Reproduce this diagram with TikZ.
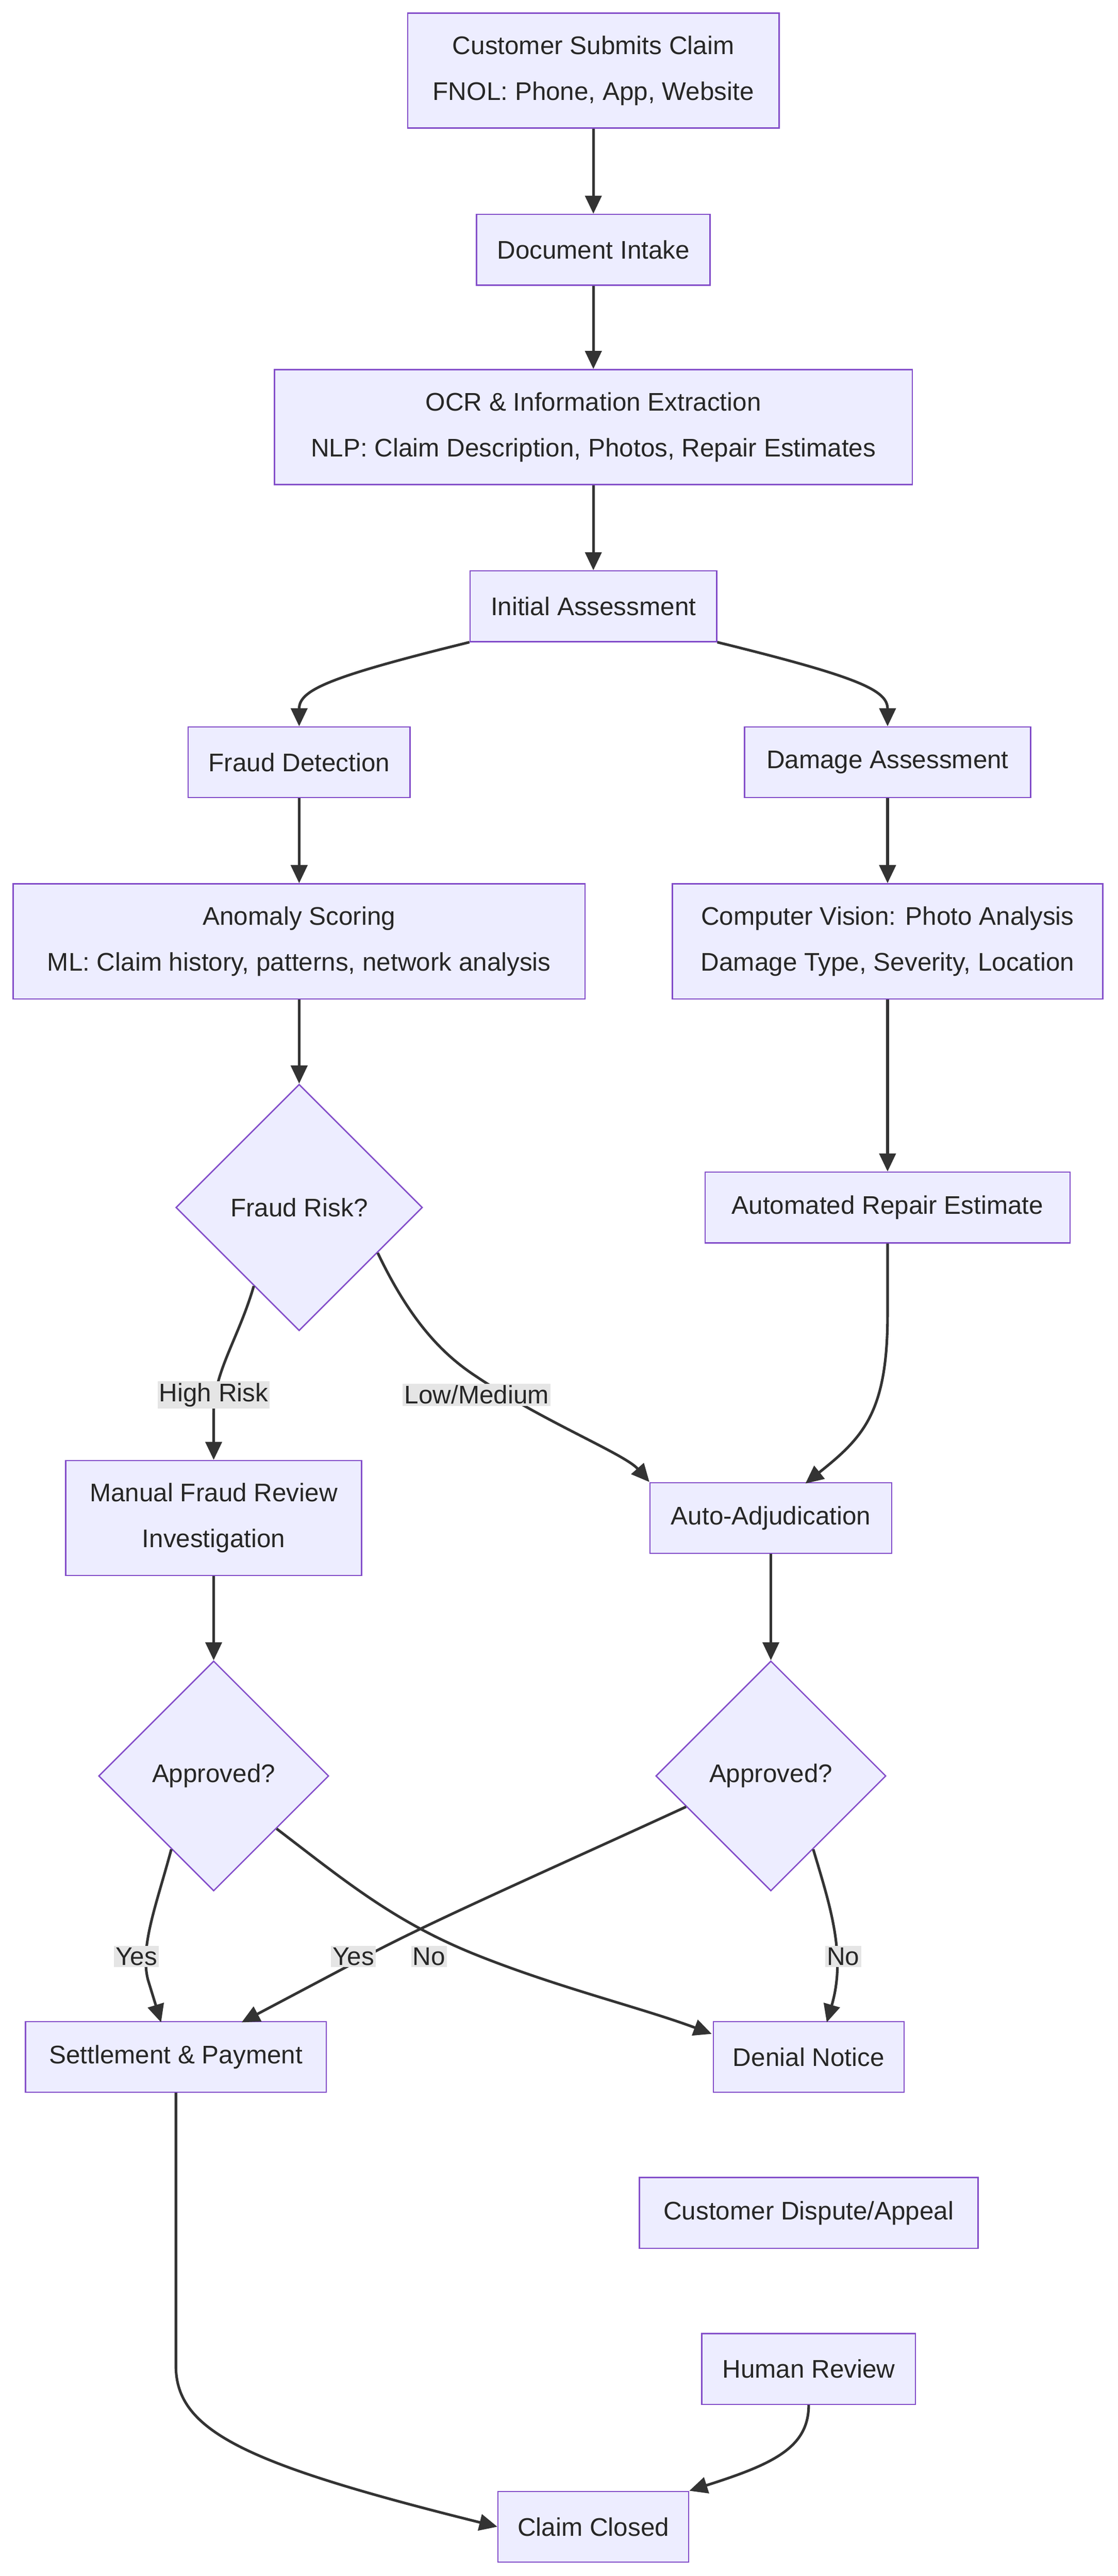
\documentclass[tikz,border=0pt]{standalone}
\usepackage{fontspec}
\setmainfont{Liberation Sans}
\usetikzlibrary{shapes.geometric,arrows.meta}
\begin{document}
\begin{tikzpicture}[x=1pt,y=-1pt,font=\fontsize{15.5}{28}\selectfont,
 box/.style={draw=violet!60!blue!70,fill=blue!7,line width=0.8pt,inner sep=0pt,align=center,text=black!85},
 dia/.style={diamond,draw=violet!60!blue!70,fill=blue!7,line width=0.8pt,inner sep=0pt,aspect=1,text=black!85},
 arr/.style={draw=black!80,line width=1.6pt,-{Triangle[length=11pt,width=10pt]}},
 lbl/.style={fill=black!10,inner sep=1pt,text=black!85}]
\useasboundingbox (0,0) rectangle (680,1568);
\fill[white] (0,0) rectangle (680,1568);
\node[box,minimum width=226,minimum height=70] (c1) at (361,43) {Customer Submits Claim\\FNOL: Phone, App, Website};
\node[box,minimum width=142,minimum height=43] (c2) at (361,152) {Document Intake};
\node[box,minimum width=388,minimum height=70] (c3) at (361,260) {OCR \& Information Extraction\\NLP: Claim Description, Photos, Repair Estimates};
\node[box,minimum width=150,minimum height=43] (c4) at (361,369) {Initial Assessment};
\node[box,minimum width=135,minimum height=43] (fd) at (182,464) {Fraud Detection};
\node[box,minimum width=174,minimum height=43] (da) at (540,464) {Damage Assessment};
\node[box,minimum width=348,minimum height=70] (as) at (182,573) {Anomaly Scoring\\ML: Claim history, patterns, network analysis};
\node[box,minimum width=262,minimum height=70] (cv) at (540,573) {Computer Vision: Photo Analysis\\Damage Type, Severity, Location};
\node[dia,minimum width=150,minimum height=150] (fr) at (182,735) {Fraud Risk?};
\node[box,minimum width=222,minimum height=43] (are) at (540,735) {Automated Repair Estimate};
\node[box,minimum width=180,minimum height=70] (mfr) at (130,924) {Manual Fraud Review\\Investigation};
\node[box,minimum width=147,minimum height=43] (aa) at (469,924) {Auto-Adjudication};
\node[dia,minimum width=140,minimum height=140] (ap1) at (130,1081) {Approved?};
\node[dia,minimum width=140,minimum height=140] (ap2) at (469,1081) {Approved?};
\node[box,minimum width=183,minimum height=43] (sp) at (107,1252) {Settlement \& Payment};
\node[box,minimum width=116,minimum height=43] (dn) at (492,1252) {Denial Notice};
\node[box,minimum width=206,minimum height=43] (cd) at (492,1347) {Customer Dispute/Appeal};
\node[box,minimum width=130,minimum height=43] (hr) at (492,1442) {Human Review};
\node[box,minimum width=116,minimum height=43] (cc) at (361,1538) {Claim Closed};
\draw[arr] (c1) -- (c2);
\draw[arr] (c2) -- (c3);
\draw[arr] (c3) -- (c4);
\draw[arr] (c4.south west) .. controls (200,412) and (182,420) .. (fd.north);
\draw[arr] (c4.south east) .. controls (522,412) and (540,420) .. (da.north);
\draw[arr] (fd) -- (as);
\draw[arr] (da) -- (cv);
\draw[arr] (as) -- (fr);
\draw[arr] (cv) -- (are);
\draw[arr] (fr.240) .. controls (145,815) and (130,835) .. (130,860) -- (mfr.north);
\draw[arr] (fr.-30) .. controls (250,805) and (270,825) .. (290,838) .. controls (330,865) and (380,885) .. (aa.north west);
\draw[arr] (are.south) -- (540,800) .. controls (540,860) and (525,875) .. (490,903);
\draw[arr] (mfr) -- (ap1);
\draw[arr] (aa) -- (ap2);
\draw[arr] (ap1.240) .. controls (95,1160) and (85,1185) .. (90,1205) -- (98,1231);
\draw[arr] (ap1.-40) .. controls (210,1145) and (240,1170) .. (290,1190) .. controls (340,1210) and (390,1222) .. (433,1238);
\draw[arr] (ap2.200) .. controls (330,1140) and (250,1175) .. (215,1195) -- (147,1231);
\draw[arr] (ap2.300) .. controls (505,1160) and (515,1190) .. (503,1231);
\draw[arr] (sp.south) -- (107,1440) .. controls (107,1480) and (150,1500) .. (cc.west);
\draw[arr] (hr.south) .. controls (492,1490) and (470,1500) .. (cc.north east);
\node[lbl] (l1) at (130,849) {High Risk};
\node[lbl] (l2) at (290,849) {Low/Medium};
\node[lbl] (l3) at (83,1191) {Yes};
\node[lbl] (l4) at (215,1191) {Yes};
\node[lbl] (l5) at (261,1191) {No};
\node[lbl] (l6) at (513,1191) {No};
\end{tikzpicture}
\end{document}
